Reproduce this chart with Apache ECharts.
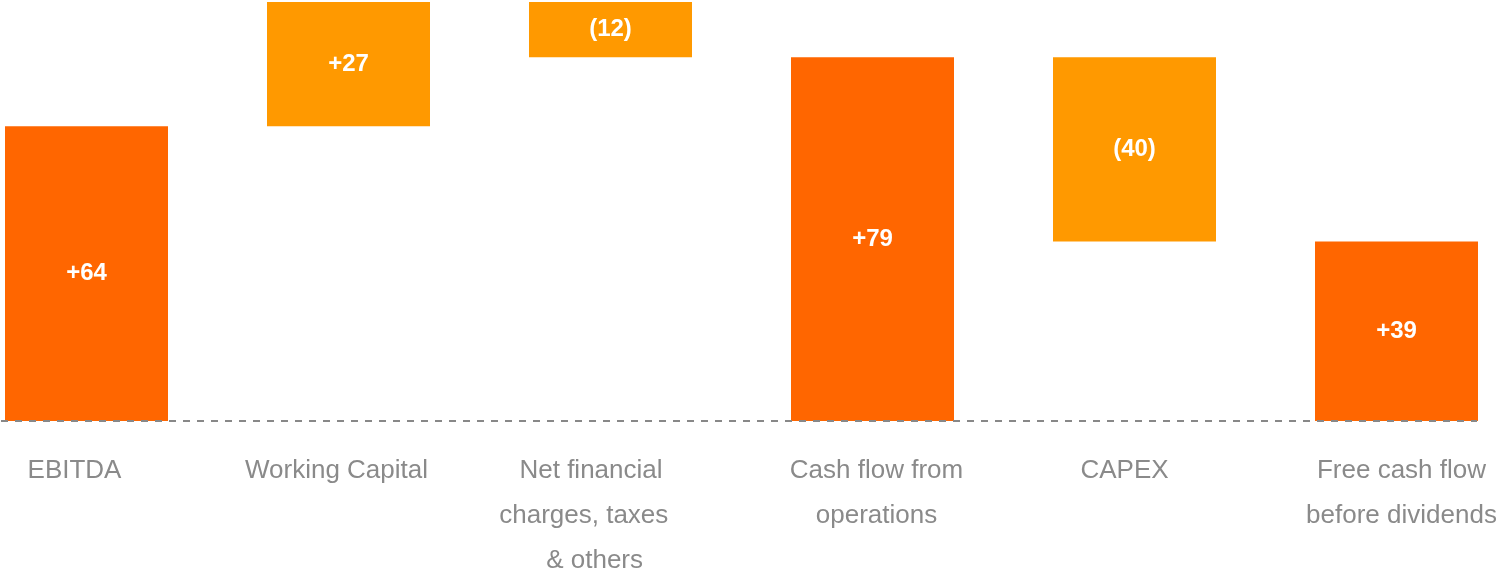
<!DOCTYPE html>
<html>
<head>
<meta charset="utf-8">
<title>Cash flow bridge</title>
<script src="https://cdn.jsdelivr.net/npm/echarts@6/dist/echarts.min.js"></script>
<style>
  html, body { margin: 0; padding: 0; background: #ffffff; }
  #chart { width: 1499px; height: 572px; }
</style>
</head>
<body>
<div id="chart"></div>
<script>
// Cash flow bridge: EBITDA to free cash flow before dividends
const categories = [
  'EBITDA',
  'Working Capital',
  'Net financial\ncharges, taxes  \n & others',
  'Cash flow from\noperations',
  'CAPEX',
  'Free cash flow\nbefore dividends'
];
const values = [64, 27, -12, 79, -40, 39];
const isTotal = [true, false, false, true, false, true];
const valueLabels = ['+64', '+27', '(12)', '+79', '(40)', '+39'];

// Horizontal nudge (px) for each category caption, negative = left
const captionShift = [-12, -12, -19.5, 4, -10, 5];

const TOTAL_COLOR = '#FF6600';
const STEP_COLOR = '#FF9900';

// Work out the floating base and visible height of each step
const base = [];
const height = [];
let running = 0;
values.forEach((v, i) => {
  if (isTotal[i]) {
    base.push(0);
    height.push(v);
    running = v;
  } else if (v >= 0) {
    base.push(running);
    height.push(v);
    running += v;
  } else {
    base.push(running + v);
    height.push(-v);
    running += v;
  }
});

const categoryData = categories.map((c, i) => {
  const s = captionShift[i];
  return {
    value: c,
    textStyle: {
      padding: s < 0 ? [0, -2 * s, 0, 0] : [0, 0, 0, 2 * s]
    }
  };
});

const chart = echarts.init(document.getElementById('chart'));
chart.setOption({
  animation: false,
  grid: {
    left: -44.5, right: -28.5, top: 2, bottom: 151,
    containLabel: false,
    outerBoundsMode: 'none'
  },
  xAxis: {
    type: 'category',
    data: categoryData,
    axisLine: { show: false },
    axisTick: { show: false },
    axisLabel: {
      interval: 0,
      margin: 27,
      color: '#8a8a8a',
      fontFamily: 'Liberation Sans, Arial, sans-serif',
      fontSize: 26,
      lineHeight: 45,
      align: 'center'
    }
  },
  yAxis: {
    type: 'value',
    min: 0,
    max: 91,
    show: false,
    splitLine: { show: false }
  },
  series: [
    {
      type: 'bar',
      stack: 'bridge',
      barWidth: 163,
      silent: true,
      itemStyle: { color: 'transparent' },
      data: base
    },
    {
      type: 'bar',
      stack: 'bridge',
      barWidth: 163,
      data: height.map((h, i) => ({
        value: h,
        itemStyle: { color: isTotal[i] ? TOTAL_COLOR : STEP_COLOR }
      })),
      label: {
        show: true,
        position: 'inside',
        color: '#ffffff',
        fontFamily: 'Liberation Sans, Arial, sans-serif',
        fontWeight: 'bold',
        fontSize: 24,
        formatter: p => valueLabels[p.dataIndex]
      },
      markLine: {
        silent: true,
        symbol: 'none',
        label: { show: false },
        lineStyle: { color: '#888888', type: [7, 7], width: 2 },
        data: [[{ x: 1, yAxis: 0 }, { x: 1477, yAxis: 0 }]]
      }
    }
  ]
});
</script>
</body>
</html>
